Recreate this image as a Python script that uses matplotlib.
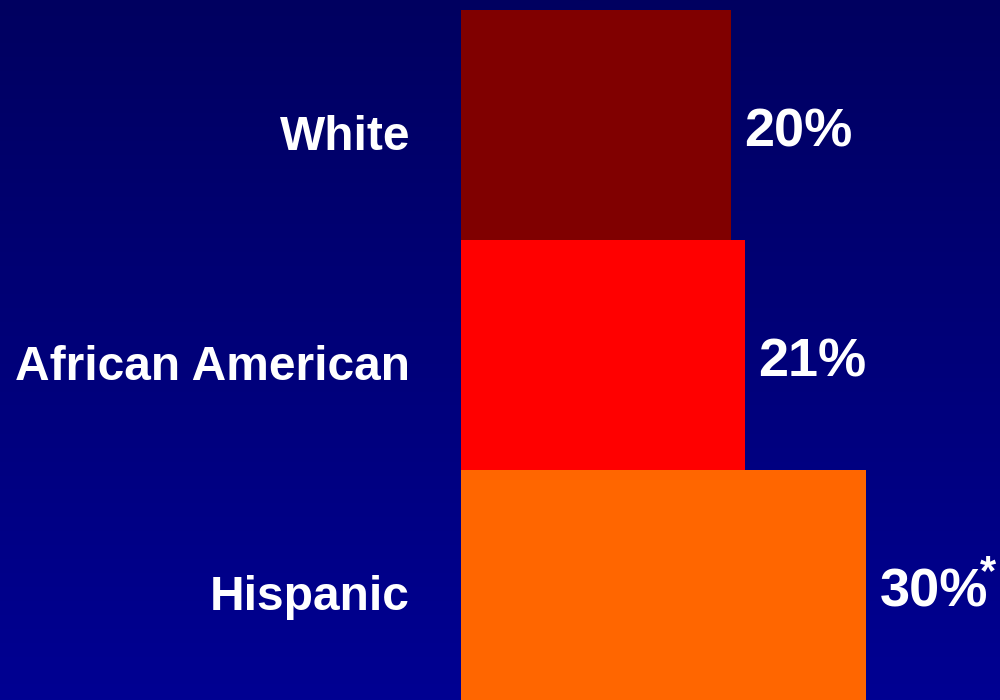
import numpy as np
import matplotlib.pyplot as plt
from matplotlib.colors import LinearSegmentedColormap

groups = ["White", "African American", "Hispanic"]
values = [20, 21, 30]
value_labels = ["20%", "21%", "30%"]
notes = ["", "", "*"]
bar_colors = ["#800000", "#ff0000", "#ff6600"]

plt.rcParams['font.family'] = ['Liberation Sans', 'DejaVu Sans']

fig = plt.figure(figsize=(10, 7), dpi=100)

# background gradient
bg = fig.add_axes([0, 0, 1, 1])
grad = np.linspace(0, 1, 256).reshape(-1, 1)
cmap = LinearSegmentedColormap.from_list("bg", ["#000060", "#000092"])
bg.imshow(grad, aspect="auto", cmap=cmap, extent=[0, 1, 0, 1])
bg.set_axis_off()

ax = fig.add_axes([0.461, 0.0, 0.539, 690 / 700])
ax.patch.set_alpha(0)
y = np.arange(len(groups))
ax.barh(y, values, height=1.0, color=bar_colors)
ax.set_xlim(0, 539 / 13.5)
ax.set_ylim(2.5, -0.5)
ax.set_xticks([])
ax.set_yticks([])
for s in ax.spines.values():
    s.set_visible(False)

for yi, g in zip(y, groups):
    ax.text(-3.78, yi + 0.11, g, color="white", fontsize=34.5,
            fontweight="bold", ha="right", va="baseline", clip_on=False)

for yi, v, lab, note in zip(y, values, value_labels, notes):
    t = ax.text(v + 1.0, yi + 0.093, lab, color="white", fontsize=39,
                fontweight="bold", ha="left", va="baseline")
    if note:
        ax.annotate(note, xy=(0.93, 1.0), xycoords=t, xytext=(0, 10),
                    textcoords="offset points", color="white",
                    fontsize=30, fontweight="bold", ha="left", va="top")

fig.savefig("out.png", dpi=100)
